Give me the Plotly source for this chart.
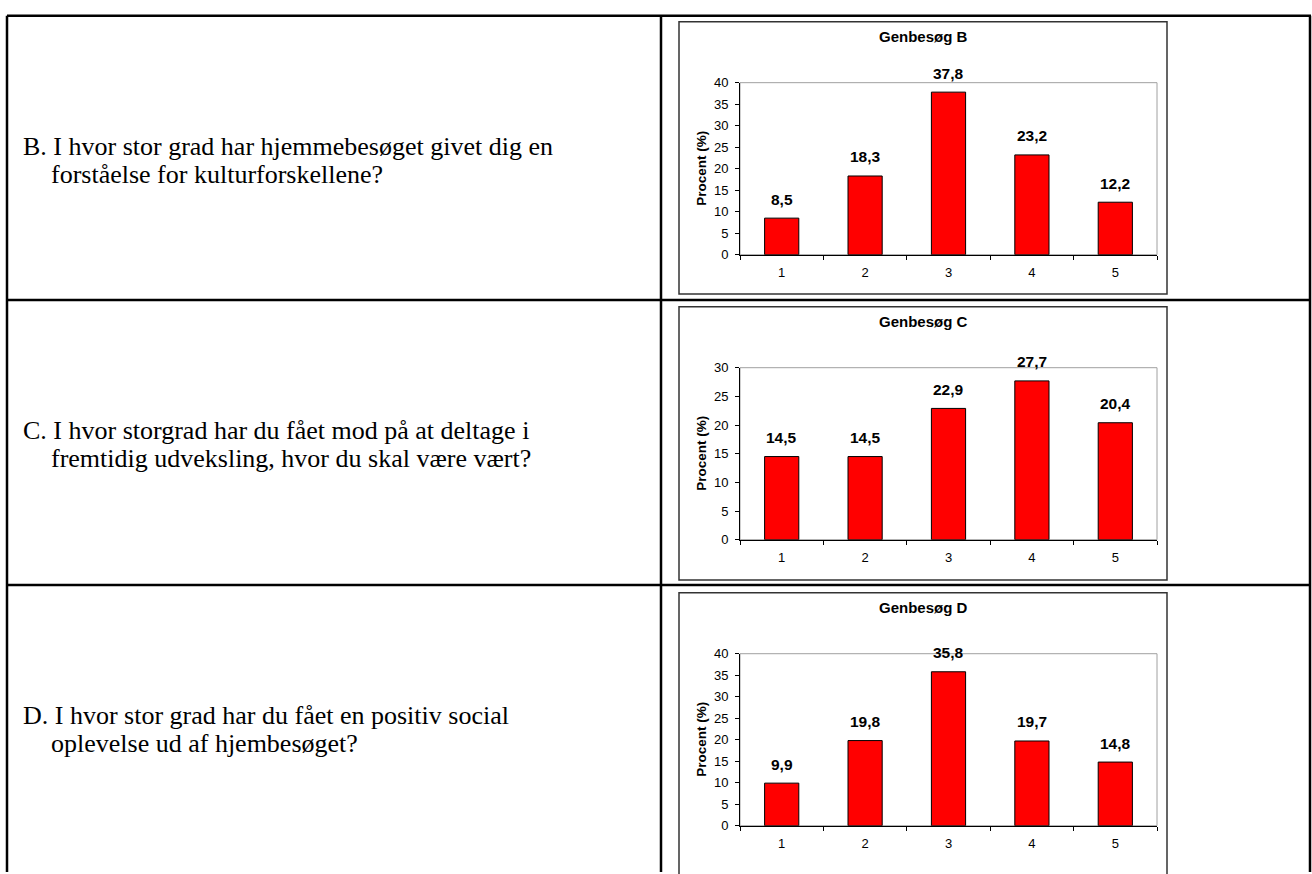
import plotly.graph_objects as go

# survey answers, scale 1-5, percent of respondents
categories = ["1", "2", "3", "4", "5"]
values_b = [8.5, 18.3, 37.8, 23.2, 12.2]
values_c = [14.5, 14.5, 22.9, 27.7, 20.4]
values_d = [9.9, 19.8, 35.8, 19.7, 14.8]

chart_titles = ["Genbesøg B", "Genbesøg C", "Genbesøg D"]
y_max = [40, 30, 40]
y_title = "Procent (%)"

questions = [
    ["B. I hvor stor grad har hjemmebesøget givet dig en",
     "forståelse for kulturforskellene?"],
    ["C. I hvor storgrad har du fået mod på at deltage i",
     "fremtidig udveksling, hvor du skal være vært?"],
    ["D. I hvor stor grad har du fået en positiv social",
     "oplevelse ud af hjembesøget?"],
]

W, H = 1312, 874


def px(x):
    return x / W


def py(y):
    return 1 - y / H


SANS = "Liberation Sans, Arial, sans-serif"
SERIF = "Liberation Serif, Times New Roman, serif"

row_tops = [9, 298, 588]
plot_tops = [77, 367, 658]
plot_h = 175
box_tops = [15, 305, 596]
box_bottoms = [292, 583, 890]

fig = go.Figure()
shapes = []
annotations = []

all_values = [values_b, values_c, values_d]
for i, vals in enumerate(all_values):
    n = "" if i == 0 else str(i + 1)
    fig.add_trace(go.Bar(
        x=categories, y=vals, xaxis="x" + n, yaxis="y" + n,
        width=0.41, marker=dict(color="#FF0000", line=dict(color="black", width=1)),
        showlegend=False, hoverinfo="x+y",
    ))
    top = plot_tops[i]
    fig.layout["xaxis" + n] = dict(
        domain=[px(740), px(1157)], anchor="y" + n, type="category",
        range=[-0.5, len(categories) - 0.5],
        showline=True, linecolor="black", linewidth=1,
        ticks="outside", tickson="boundaries", ticklen=4, tickcolor="black",
        ticklabelstandoff=6,
        tickfont=dict(family=SANS, size=13, color="black"),
        showgrid=False, fixedrange=True,
    )
    fig.layout["yaxis" + n] = dict(
        domain=[py(top + plot_h), py(top)], anchor="x" + n,
        range=[0, y_max[i]], dtick=5,
        showline=True, linecolor="black", linewidth=1,
        ticks="outside", ticklen=4, tickcolor="black",
        ticklabelstandoff=4,
        tickfont=dict(family=SANS, size=13, color="black"),
        showgrid=False, zeroline=False, fixedrange=True,
    )
    # grey plot-area frame
    shapes.append(dict(type="rect", xref="x" + n + " domain", yref="y" + n + " domain",
                       x0=0, x1=1, y0=0, y1=1, layer="below",
                       line=dict(color="#A0A0A0", width=1)))
    # chart box
    shapes.append(dict(type="rect", xref="paper", yref="paper",
                       x0=px(679), x1=px(1167), y0=py(box_bottoms[i]), y1=py(box_tops[i]),
                       line=dict(color="#333333", width=1.5)))
    # chart title
    annotations.append(dict(text="<b>%s</b>" % chart_titles[i], xref="paper", yref="paper",
                            x=px(923), y=py(box_tops[i] + 15), showarrow=False,
                            xanchor="center", yanchor="middle",
                            font=dict(family=SANS, size=15, color="black")))
    # y axis title
    annotations.append(dict(text="<b>%s</b>" % y_title, xref="paper", yref="paper",
                            x=px(702), y=py(top + plot_h / 2), showarrow=False,
                            textangle=-90, xanchor="center", yanchor="middle",
                            font=dict(family=SANS, size=13.5, color="black")))
    # data labels, placed on the category index of each bar
    for k, v in enumerate(vals):
        annotations.append(dict(text="<b>%s</b>" % ("%.1f" % v).replace(".", ","),
                                xref="x" + n, yref="y" + n, x=k, y=v, yshift=19,
                                showarrow=False, xanchor="center", yanchor="middle",
                                font=dict(family=SANS, size=15.5, color="black")))
    # question text in the left column
    mid = row_tops[i] + 140
    annotations.append(dict(text=questions[i][0], xref="paper", yref="paper",
                            x=px(21), y=py(mid - 7), showarrow=False,
                            xanchor="left", yanchor="middle",
                            font=dict(family=SERIF, size=26, color="black")))
    annotations.append(dict(text=questions[i][1], xref="paper", yref="paper",
                            x=px(49), y=py(mid + 28 - 7), showarrow=False,
                            xanchor="left", yanchor="middle",
                            font=dict(family=SERIF, size=26, color="black")))

# table grid
tbl = dict(color="black", width=2.5)
shapes += [
    dict(type="line", xref="paper", yref="paper", x0=px(7), x1=px(1311), y0=py(9), y1=py(9), line=tbl),
    dict(type="line", xref="paper", yref="paper", x0=px(7), x1=px(1311), y0=py(298), y1=py(298), line=tbl),
    dict(type="line", xref="paper", yref="paper", x0=px(7), x1=px(1311), y0=py(588), y1=py(588), line=tbl),
    dict(type="line", xref="paper", yref="paper", x0=px(7), x1=px(7), y0=py(9), y1=py(880), line=tbl),
    dict(type="line", xref="paper", yref="paper", x0=px(661), x1=px(661), y0=py(9), y1=py(880), line=tbl),
    dict(type="line", xref="paper", yref="paper", x0=px(1310), x1=px(1310), y0=py(9), y1=py(880), line=tbl),
]

fig.update_layout(
    width=W, height=H,
    margin=dict(l=0, r=0, t=0, b=0),
    paper_bgcolor="white", plot_bgcolor="white",
    shapes=shapes, annotations=annotations,
    bargap=0.5,
)

# drop the default body margin so the page is exactly the figure size
fig.write_html("out.html", config={"displayModeBar": False},
               post_script="document.body.style.margin='0';")
